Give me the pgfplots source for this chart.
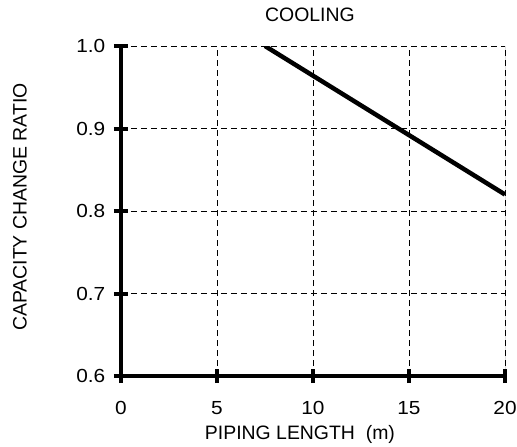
\documentclass[border=0pt]{standalone}
\usepackage{fontspec}
\setmainfont{Liberation Sans}
\newfontfamily\tickfont{Liberation Sans}[FakeStretch=1.1]
\newcommand{\tk}[1]{{\tickfont\fontsize{19}{22}\selectfont #1}}
\usepackage{pgfplots}
\pgfplotsset{compat=1.18}
\begin{document}
\begin{tikzpicture}
\fontsize{19.5}{22}\selectfont
\path[use as bounding box] (-121bp,-71bp) rectangle (396bp,376bp);
\begin{axis}[
  at={(0,0)}, anchor=south west,
  scale only axis,
  width=384bp, height=330bp,
  xmin=0, xmax=20, ymin=0.6, ymax=1.0,
  xtick={0,5,10,15,20},
  ytick={0.6,0.7,0.8,0.9,1.0},
  xticklabels={\tk{0},\tk{5},\tk{10},\tk{15},\tk{20}},
  yticklabels={\tk{0.6},\tk{0.7},\tk{0.8},\tk{0.9},\tk{1.0}},
  axis x line*=bottom, axis y line*=left,
  axis line style={line width=4.5bp, -},
  tick style={line width=4bp, black},
  tick align=center,
  major tick length=14bp,
  grid=major,
  grid style={black, line width=0.9bp, dash pattern=on 6bp off 4bp},
  xticklabel style={yshift=-12bp},
  yticklabel style={xshift=-2bp},
  xlabel={PIPING LENGTH\ \ (m)},
  ylabel={CAPACITY CHANGE RATIO},
  title={COOLING},
  xlabel style={at={(axis description cs:0.466,-0.176)}, anchor=center},
  ylabel style={at={(axis description cs:-0.263,0.512)}, anchor=center, rotate=0},
  title style={at={(axis description cs:0.492,1.076)}, anchor=center},
]
\addplot[black, line width=4.5bp] coordinates {(7.5,1.0) (20,0.82)};
\draw[black, line width=0.9bp] (rel axis cs:1,0) -- (rel axis cs:1,1);
\end{axis}
\end{tikzpicture}
\end{document}
